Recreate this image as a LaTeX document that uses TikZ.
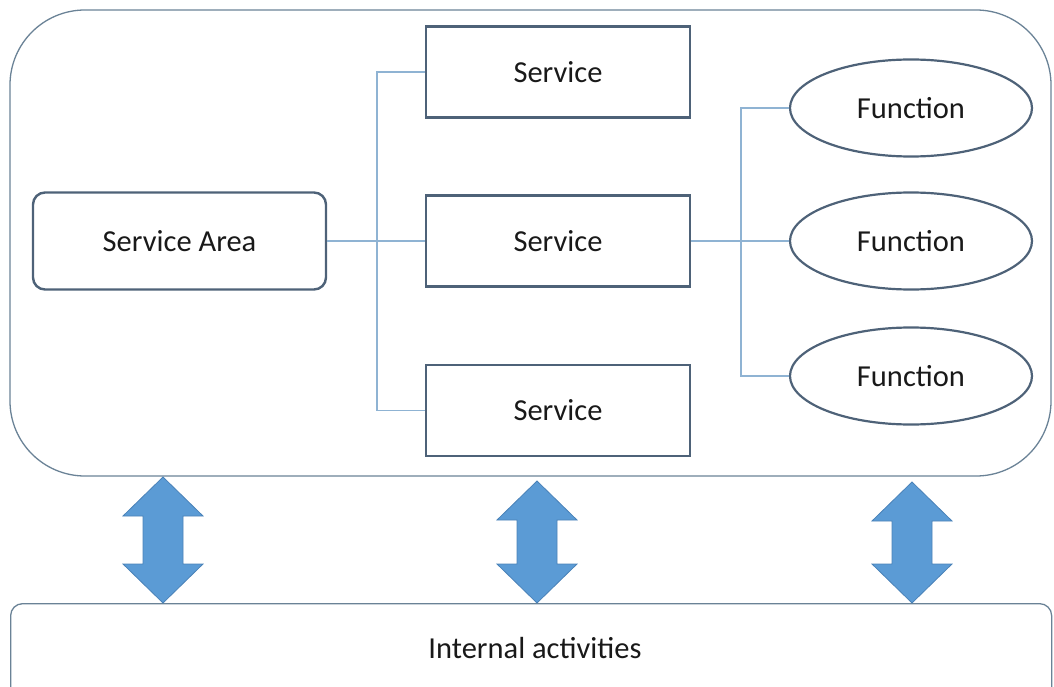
\documentclass[tikz,border=0pt]{standalone}
\usepackage{fontspec}
\setmainfont{Carlito}
\usetikzlibrary{shapes.geometric}
\definecolor{boxline}{HTML}{4E6278}
\definecolor{outerline}{HTML}{6A8296}
\definecolor{conn}{HTML}{8FB3D3}
\definecolor{arrfill}{HTML}{5B9BD5}
\definecolor{arrline}{HTML}{4A82B8}
\tikzset{
  txt/.style={font=\fontsize{30.5}{35}\selectfont, text=black!90},
  svcbox/.style={txt, draw=boxline, line width=2.4pt, minimum width=264pt, minimum height=91pt, inner sep=0pt},
  areabox/.style={txt, draw=boxline, line width=2.4pt, rounded corners=12pt, minimum width=293pt, minimum height=97pt, inner sep=0pt},
  funcell/.style={txt, ellipse, draw=boxline, line width=2.2pt, minimum width=242pt, minimum height=97pt, inner sep=0pt},
  connector/.style={draw=conn, line width=1.4pt},
  outerbox/.style={draw=outerline, line width=1.3pt},
  blockarr/.style={fill=arrfill, draw=arrline, line width=0.8pt, line join=miter}
}
\begin{document}
\begin{tikzpicture}[x=1pt,y=-1pt]
\useasboundingbox (0,0) rectangle (1054,687);
% outer container
\draw[outerbox, rounded corners=75pt] (10,10) rectangle (1051,476);
% bottom container
\node[txt, outerbox, rounded corners=12pt, minimum width=1041pt, minimum height=110pt, inner sep=0pt, anchor=north west] (ia) at (10,603) {};
\node[txt] (iatext) at (535,648) {Internal activities};
% nodes
\node[areabox] (sa) at (179.5,241) {Service Area};
\node[svcbox] (s1) at (558,72) {Service};
\node[svcbox] (s2) at (558,241) {Service};
\node[svcbox] (s3) at (558,410.5) {Service};
\node[funcell] (f1) at (911,108) {Function};
\node[funcell] (f2) at (911,241) {Function};
\node[funcell] (f3) at (911,376) {Function};
\coordinate (j1) at (377,241);
\coordinate (j2) at (741,241);
% connectors
\draw[connector] (sa.east) -- (s2.west);
\draw[connector] (s1.west) -| (j1) |- (s3.west);
\draw[connector] (s2.east) -- (f2.west);
\draw[connector] (f1.west) -| (j2) |- (f3.west);
% block arrows
\foreach \x/\t in {163/477, 537/481, 912/482}{
  \pgfmathsetmacro{\b}{603}
  \draw[blockarr] (\x,\t) -- ({\x+40},{\t+39}) -- ({\x+20},{\t+39}) -- ({\x+20},{\b-39}) -- ({\x+40},{\b-39}) -- (\x,\b) -- ({\x-40},{\b-39}) -- ({\x-20},{\b-39}) -- ({\x-20},{\t+39}) -- ({\x-40},{\t+39}) -- cycle;
}
\end{tikzpicture}
\end{document}
